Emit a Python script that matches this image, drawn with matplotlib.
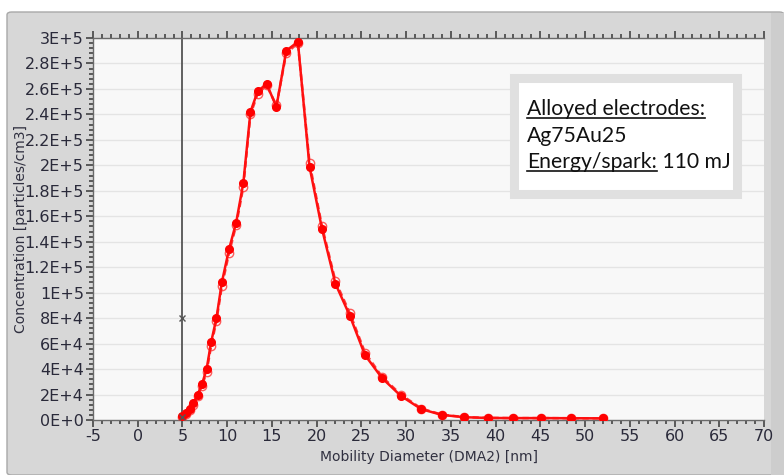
import matplotlib
matplotlib.use("Agg")
import matplotlib.pyplot as plt
from matplotlib.ticker import MultipleLocator, FuncFormatter
from matplotlib.patches import Rectangle, FancyBboxPatch
from matplotlib.lines import Line2D
from matplotlib import font_manager

# ---- data ----
diameter = [5.0, 5.4, 5.8, 6.2, 6.7, 7.2, 7.7, 8.2, 8.8, 9.4, 10.2, 11.0, 11.8, 12.6,
            13.4, 14.4, 15.5, 16.6, 17.9, 19.2, 20.6, 22.1, 23.7, 25.4, 27.3, 29.4,
            31.7, 34.0, 36.5, 39.1, 42.0, 45.1, 48.4, 52.0]
conc_solid = [3000, 5500, 8500, 13000, 20000, 28500, 40000, 61000, 80000, 108000,
              134000, 155000, 186000, 242000, 258000, 264000, 246000, 290000, 297000,
              199000, 150000, 107000, 82000, 51000, 33000, 19000, 8500, 4000, 2200,
              1600, 1500, 1500, 1400, 1300]
conc_dashed = [2500, 5000, 8000, 12000, 19000, 27000, 38000, 58000, 78000, 105000,
               131000, 153000, 183000, 240000, 256000, 263000, 247000, 288000, 296000,
               202000, 152000, 109000, 84000, 53000, 34000, 20000, 9000, 4200, 2300,
               1700, 1500, 1500, 1400, 1300]
cursor_x = 5.0
cursor_marks = [80000, 2500]
x_ticks = list(range(-5, 71, 5))
y_ticks = list(range(0, 300001, 20000))
xlabel = "Mobility Diameter (DMA2) [nm]"
ylabel = "Concentration [particles/cm3]"
box_line1 = "Alloyed electrodes:"
box_line2 = "Ag75Au25"
box_line3a = "Energy/spark:"
box_line3b = " 110 mJ"

installed = {f.name for f in font_manager.fontManager.ttflist}
tick_font = "Liberation Sans Narrow" if "Liberation Sans Narrow" in installed else "DejaVu Sans"
box_font = "Lato" if "Lato" in installed else "DejaVu Sans"

W, H = 784, 475
fig = plt.figure(figsize=(W / 100, H / 100), dpi=100)
fig.patch.set_facecolor("white")

# panel background
fig.patches.append(FancyBboxPatch((7 / W, 0), (W - 7) / W, (H - 12) / H,
                                  boxstyle="round,pad=0,rounding_size=0.006",
                                  transform=fig.transFigure, facecolor="#d7d7d7",
                                  edgecolor="#a8a8a8", linewidth=1.0, zorder=-10))
fig.patches.append(Rectangle((771 / W, 0), 13 / W, (H - 13) / H, transform=fig.transFigure,
                             facecolor="#cdcdcd", edgecolor="none", zorder=-9))

ax = fig.add_axes([93 / W, 1 - 420 / H, (764 - 93) / W, (420 - 38) / H])
ax.set_zorder(1)
ax.set_facecolor("#f8f8f8")
ax.set_xlim(-5, 70)
ax.set_ylim(0, 300000)

for yv in y_ticks[1:]:
    ax.axhline(yv, color="#e4e4e4", linewidth=1.0, zorder=1)

ax.plot(diameter, conc_dashed, color="#ff2020", linestyle=(0, (2.5, 1.5)), linewidth=1.8,
        marker="o", markersize=6, markerfacecolor="none", markeredgecolor="#ff4040",
        markeredgewidth=1.0, alpha=0.85, zorder=3)
ax.plot(diameter, conc_solid, color="#ff1010", linewidth=1.8, marker="o",
        markersize=5.5, markerfacecolor="#ff0000", markeredgecolor="#ff0000", zorder=4)

ax.plot([cursor_x, cursor_x], [0, 300000], color="#555555", linewidth=1.3, zorder=2)
ax.plot([cursor_x] * len(cursor_marks), cursor_marks, linestyle="none", marker="x",
        markersize=5, color="#555555", markeredgewidth=1.0, zorder=5)

ax.xaxis.set_major_locator(MultipleLocator(5))
ax.xaxis.set_minor_locator(MultipleLocator(1))
ax.yaxis.set_major_locator(MultipleLocator(20000))
ax.yaxis.set_minor_locator(MultipleLocator(4000))


def yfmt(v, pos):
    if v == 0:
        return "0E+0"
    s = "%.1E" % v
    mant, exp = s.split("E")
    mant = mant.rstrip("0").rstrip(".")
    return "%sE+%d" % (mant, int(exp))


ax.yaxis.set_major_formatter(FuncFormatter(yfmt))
ax.xaxis.set_major_formatter(FuncFormatter(lambda v, p: "%d" % v))

ax.tick_params(axis="both", which="both", direction="out", colors="#444444",
               top=True, right=False)
ax.tick_params(axis="both", which="major", length=5, width=1.2, labelsize=11.5,
               labelcolor="#2a2a3a", pad=1.5)
ax.tick_params(axis="both", which="minor", length=3, width=1.2)
for lab in ax.get_xticklabels() + ax.get_yticklabels():
    lab.set_fontfamily(tick_font)

for side in ["left", "bottom", "top"]:
    ax.spines[side].set_color("#6a6a6a")
    ax.spines[side].set_linewidth(1.0)
ax.spines["right"].set_visible(False)

ax.set_xlabel(xlabel, fontsize=10, fontfamily=tick_font, color="#303040", labelpad=4)
ax.set_ylabel(ylabel, fontsize=10, fontfamily=tick_font, color="#303040", labelpad=2)
ax.yaxis.set_label_coords(-0.097, 0.5)

# annotation box
fig.patches.append(Rectangle((514 / W, 1 - 194 / H), 223 / W, 116 / H,
                             transform=fig.transFigure, facecolor="white",
                             edgecolor="#e0e0e0", linewidth=6.5, zorder=6))
tx = 527 / W
fs = 15.2
kw = dict(fontsize=fs, fontfamily=box_font, va="baseline", color="#111111", zorder=7)
t1 = fig.text(tx, 1 - 115 / H, box_line1, **kw)
t2 = fig.text(tx, 1 - 141.5 / H, box_line2, **kw)
t3 = fig.text(tx, 1 - 168 / H, box_line3a, **kw)
fig.canvas.draw()
r = fig.canvas.get_renderer()
e3 = t3.get_window_extent(r)
t4 = fig.text(e3.x1 / W, 1 - 168 / H, box_line3b, **kw)
for t, ypix in [(t1, 117.5), (t3, 170.5)]:
    e = t.get_window_extent(r)
    fig.add_artist(Line2D([e.x0 / W, e.x1 / W], [1 - ypix / H, 1 - ypix / H],
                          transform=fig.transFigure, color="#111111", linewidth=1.2,
                          zorder=8))

fig.savefig("out.png", dpi=100, facecolor=fig.get_facecolor())
